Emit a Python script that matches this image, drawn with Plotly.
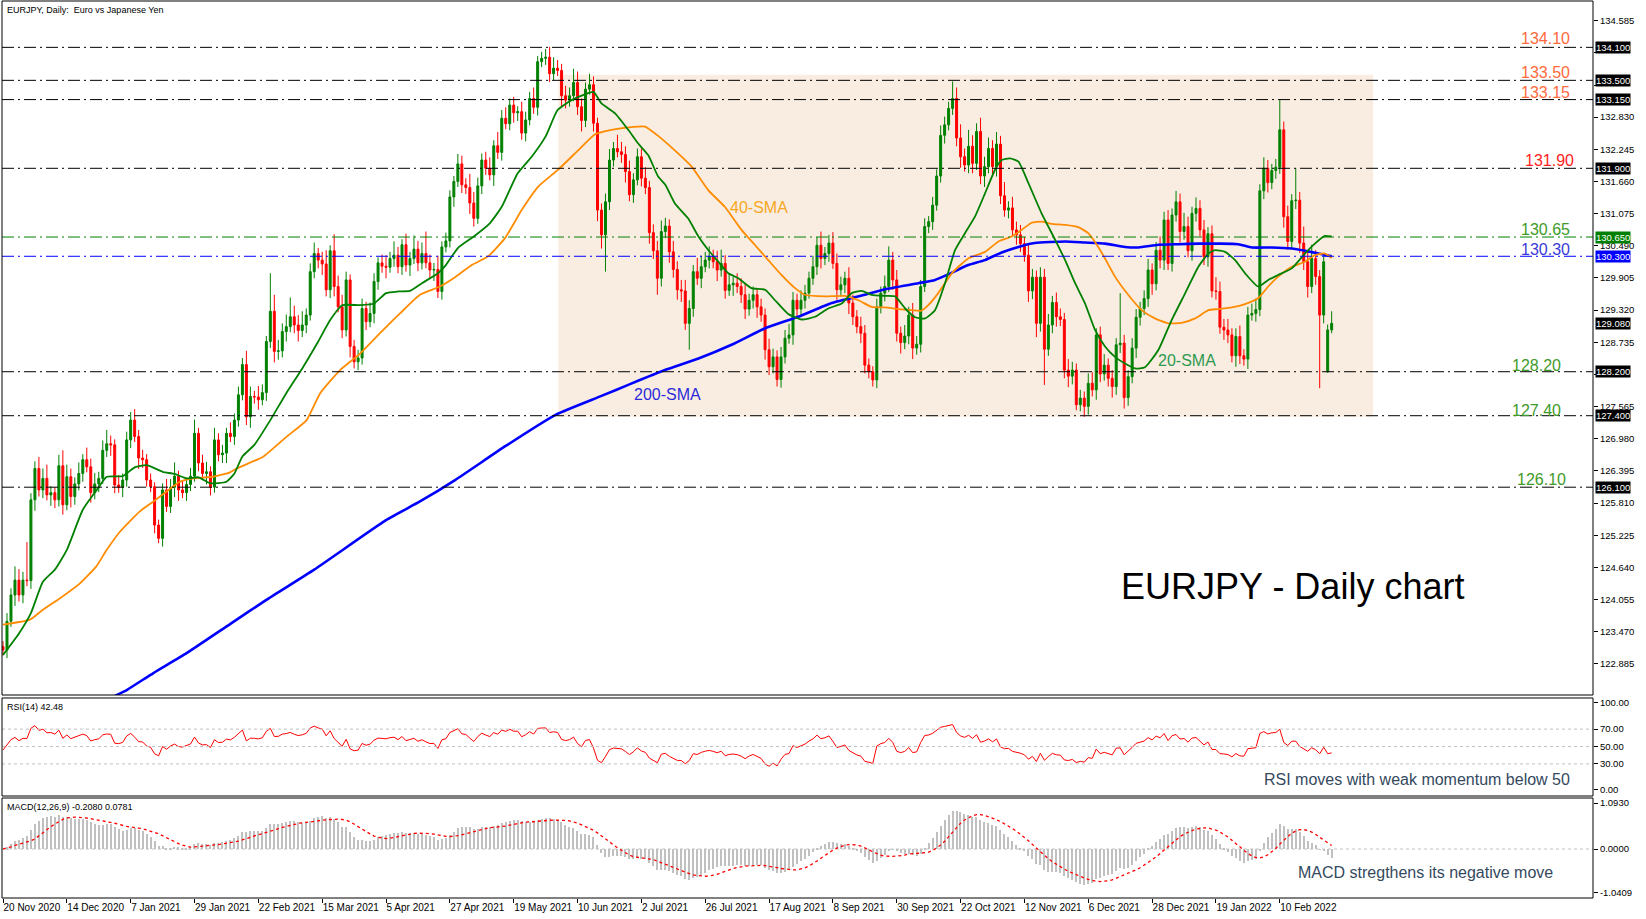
import plotly.graph_objects as go

# ---------------- data ----------------
# daily closes, one per bar (20 Nov 2020 ... 1 Mar 2022)
closes = [
    123.14, 123.66, 124.14, 124.41, 124.14, 124.41, 124.40, 125.87, 126.44, 126.05,
    126.26, 125.96, 126.00, 125.87, 126.49, 125.78, 126.29, 125.93, 126.16, 126.35,
    126.60, 126.47, 126.00, 126.16, 126.26, 126.77, 126.89, 126.87, 126.14, 126.10,
    126.23, 126.96, 127.32, 127.02, 126.63, 126.60, 126.23, 126.11, 125.41, 125.17,
    126.05, 125.75, 126.10, 126.30, 126.05, 126.00, 126.15, 126.30, 127.08, 126.54,
    126.35, 126.38, 126.10, 126.96, 126.69, 126.72, 127.08, 127.02, 127.32, 127.78,
    128.33, 127.38, 127.75, 127.74, 127.69, 127.82, 128.75, 129.30, 128.57, 128.58,
    128.93, 129.02, 129.20, 129.05, 128.95, 129.05, 129.23, 130.02, 130.35, 130.23,
    130.16, 129.69, 130.40, 129.75, 129.38, 128.96, 129.87, 128.66, 128.38, 128.45,
    129.35, 129.11, 129.26, 129.84, 130.18, 130.12, 130.10, 130.26, 130.32, 130.11,
    130.51, 130.14, 130.26, 130.43, 130.18, 130.35, 130.18, 130.05, 130.06, 129.66,
    130.47, 130.58, 131.38, 131.66, 131.98, 131.60, 131.55, 131.27, 130.99, 131.58,
    132.05, 131.90, 131.78, 132.31, 132.19, 132.81, 132.71, 133.05, 132.91, 132.93,
    132.54, 132.78, 133.17, 133.01, 133.84, 133.90, 133.92, 133.62, 133.72, 133.68,
    133.22, 133.14, 133.22, 133.46, 133.02, 132.77, 133.34, 133.42, 132.72, 131.14,
    130.69, 131.29, 132.05, 132.26, 132.20, 132.15, 131.84, 131.42, 131.69, 132.11,
    131.72, 131.55, 130.73, 130.40, 129.90, 130.75, 130.85, 130.38, 130.06, 129.69,
    129.67, 129.08, 129.35, 130.02, 129.90, 130.11, 130.23, 130.30, 130.20, 130.05,
    130.17, 129.68, 129.78, 129.81, 129.75, 129.60, 129.34, 129.50, 129.60, 129.38,
    129.23, 128.60, 128.29, 128.47, 128.06, 128.47, 128.81, 128.87, 129.50, 129.34,
    129.50, 129.63, 129.90, 130.11, 130.50, 130.26, 130.35, 130.54, 130.17, 129.69,
    129.78, 129.90, 129.45, 129.20, 129.02, 128.90, 128.32, 128.20, 128.05, 129.38,
    129.63, 129.75, 130.23, 129.87, 128.90, 128.73, 128.85, 129.23, 128.63, 128.70,
    129.75, 130.84, 130.93, 131.23, 131.76, 132.50, 132.69, 132.99, 133.17, 132.45,
    132.11, 131.96, 132.30, 131.99, 132.57, 131.76, 131.93, 132.26, 131.93, 132.34,
    131.40, 131.14, 131.18, 130.78, 130.69, 130.53, 130.32, 129.67, 129.92, 129.08,
    129.92, 128.61, 129.05, 129.46, 129.20, 129.15, 128.23, 128.12, 128.23, 127.60,
    127.72, 127.57, 127.99, 127.87, 128.87, 128.16, 128.32, 128.08, 127.93, 128.69,
    128.72, 127.73, 128.11, 128.63, 129.19, 129.35, 129.53, 130.05, 129.80, 130.41,
    130.23, 130.96, 130.17, 131.05, 131.29, 130.75, 130.84, 130.40, 131.08, 131.17,
    130.78, 130.29, 130.71, 129.67, 129.66, 129.01, 128.96, 128.87, 128.49, 128.84,
    128.49, 128.43, 129.23, 129.26, 129.33, 131.49, 131.90, 131.64, 131.86, 131.92,
    132.60, 131.02, 130.57, 131.31, 131.32, 130.54, 130.20, 129.75, 130.26, 129.93,
    129.23, 130.20, 128.96, 129.08,
]
first_open = 123.20
gap_open_bar = 332          # Monday gap after the weekend
gap_open_price = 128.20

# wick lengths in pips (0.01 JPY) above / below the candle body
upper_wick_pips = [
    10, 15, 12, 25, 20, 15, 69, 12, 13, 21,
    18, 25, 12, 10, 20, 28, 22, 15, 12, 20,
    10, 22, 15, 20, 12, 18, 25, 15, 10, 18,
    12, 15, 15, 20, 12, 15, 10, 12, 8, 10,
    12, 20, 15, 25, 10, 18, 12, 15, 25, 10,
    15, 18, 10, 22, 12, 15, 10, 20, 12, 15,
    12, 25, 18, 10, 20, 15, 10, 69, 30, 20,
    15, 22, 35, 20, 18, 25, 12, 15, 20, 10,
    15, 25, 10, 30, 20, 22, 15, 10, 12, 15,
    18, 12, 20, 15, 10, 15, 20, 12, 25, 15,
    10, 20, 12, 25, 15, 20, 40, 15, 12, 25,
    10, 15, 12, 10, 18, 15, 12, 25, 20, 15,
    12, 15, 20, 10, 25, 15, 20, 12, 15, 10,
    18, 15, 12, 20, 10, 12, 15, 19, 20, 15,
    12, 18, 15, 25, 20, 15, 12, 20, 15, 10,
    12, 15, 20, 12, 25, 18, 15, 20, 12, 15,
    15, 20, 12, 15, 18, 20, 15, 12, 20, 15,
    18, 20, 15, 12, 25, 20, 15, 18, 12, 20,
    25, 15, 20, 12, 18, 15, 20, 12, 15, 10,
    15, 12, 20, 15, 12, 18, 15, 20, 15, 12,
    18, 15, 12, 20, 15, 25, 12, 15, 20, 18,
    15, 12, 20, 15, 12, 18, 15, 12, 10, 15,
    12, 20, 25, 15, 18, 12, 20, 15, 22, 15,
    12, 15, 10, 15, 12, 18, 15, 12, 31, 20,
    25, 15, 30, 20, 15, 25, 18, 20, 15, 22,
    15, 25, 12, 20, 15, 18, 12, 20, 15, 12,
    18, 15, 20, 12, 18, 15, 12, 20, 15, 12,
    15, 12, 18, 20, 12, 15, 20, 12, 15, 12,
    91, 15, 12, 18, 15, 12, 15, 20, 12, 15,
    25, 15, 18, 12, 20, 15, 25, 18, 12, 20,
    15, 18, 12, 15, 25, 18, 15, 20, 12, 15,
    20, 12, 15, 18, 20, 12, 20, 15, 12, 15,
    55, 15, 20, 12, 58, 15, 30, 18, 25, 15,
    12, 10, 10, 22,
]
lower_wick_pips = [
    10, 15, 10, 20, 12, 15, 10, 15, 20, 12,
    15, 10, 20, 15, 12, 18, 10, 20, 15, 12,
    15, 10, 18, 12, 15, 10, 12, 20, 15, 10,
    18, 12, 15, 10, 20, 15, 12, 10, 15, 9,
    15, 10, 12, 18, 20, 10, 15, 12, 10, 15,
    12, 20, 15, 10, 12, 15, 18, 10, 15, 12,
    10, 15, 20, 12, 18, 10, 15, 12, 20, 15,
    12, 18, 10, 15, 20, 12, 15, 10, 12, 15,
    20, 12, 15, 18, 10, 15, 12, 20, 12, 15,
    12, 15, 10, 18, 15, 12, 20, 10, 15, 12,
    15, 12, 20, 10, 15, 12, 10, 15, 20, 12,
    15, 10, 12, 18, 10, 15, 12, 20, 15, 10,
    15, 12, 10, 20, 12, 15, 10, 12, 18, 15,
    12, 15, 10, 12, 15, 10, 12, 15, 12, 10,
    20, 15, 12, 10, 15, 20, 12, 10, 15, 20,
    25, 67, 15, 12, 10, 15, 20, 12, 15, 10,
    15, 12, 20, 15, 30, 15, 12, 20, 15, 18,
    20, 12, 48, 15, 12, 18, 10, 15, 12, 20,
    12, 15, 10, 20, 12, 15, 18, 12, 15, 20,
    12, 18, 15, 12, 13, 15, 12, 10, 18, 15,
    12, 15, 10, 12, 15, 18, 12, 15, 10, 18,
    12, 15, 20, 15, 12, 18, 15, 12, 12, 15,
    12, 15, 10, 18, 15, 20, 12, 15, 20, 12,
    15, 10, 12, 15, 10, 12, 15, 10, 12, 15,
    20, 12, 15, 18, 12, 15, 20, 12, 15, 18,
    15, 12, 15, 12, 18, 15, 12, 20, 15, 25,
    15, 65, 12, 15, 18, 12, 15, 20, 15, 10,
    12, 19, 15, 12, 18, 15, 12, 15, 20, 15,
    15, 20, 15, 12, 18, 15, 12, 15, 20, 12,
    15, 18, 12, 15, 12, 20, 15, 12, 18, 15,
    12, 15, 18, 12, 15, 12, 18, 15, 12, 20,
    15, 12, 18, 10, 15, 12, 15, 18, 12, 15,
    12, 20, 15, 12, 15, 18, 15, 20, 12, 15,
    133, 15, 2, 6,
]

# moving averages: (bar, value)
sma20_pts = [
    (0, 123.05), (4, 123.44), (7, 123.81), (10, 124.38), (13, 124.6), (16, 124.96),
    (20, 125.69), (23.5, 126.05), (26, 126.29), (30, 126.3), (33, 126.46), (36, 126.5),
    (40, 126.38), (43, 126.34), (46, 126.26), (49, 126.28), (52, 126.17), (56, 126.2),
    (58, 126.35), (60, 126.66), (63, 126.87), (67, 127.32), (71, 127.81), (75, 128.26),
    (79, 128.75), (82, 129.14), (85, 129.41), (89.5, 129.41), (93, 129.44), (96, 129.63),
    (99, 129.66), (102, 129.67), (105, 129.81), (109, 129.99), (111, 130.14), (114, 130.45),
    (118, 130.66), (122, 130.9), (125, 131.2), (129, 131.81), (132.5, 132.11), (136, 132.48),
    (139, 132.96), (142.5, 133.14), (146, 133.25), (148, 133.29), (150, 133.08), (153.4, 132.9),
    (156.7, 132.6), (159.2, 132.35), (161.7, 132.14), (164.2, 131.75), (166, 131.6), (168.4, 131.26),
    (171.7, 130.99), (174.3, 130.66), (176.8, 130.41), (179.3, 130.2), (181.8, 129.99), (184.3, 129.9),
    (187.6, 129.72), (191, 129.69), (193.5, 129.5), (196.8, 129.25), (200.2, 129.15), (203.5, 129.2),
    (206.8, 129.35), (210.2, 129.44), (212.7, 129.63), (215.2, 129.67), (217.7, 129.6), (221, 129.58),
    (223.6, 129.57), (226.1, 129.35), (228.6, 129.19), (231.1, 129.17), (233.6, 129.32), (236.1, 129.81),
    (238.6, 130.41), (241.1, 130.72), (243.6, 131.02), (246.1, 131.44), (248.6, 131.87), (250.3, 132.05),
    (252.4, 132.08), (254.5, 132.02), (257, 131.63), (260.3, 131.08), (263.7, 130.6), (266.2, 130.23),
    (268.7, 129.81), (271.2, 129.44), (273.7, 128.96), (276.2, 128.66), (278.7, 128.47), (281.2, 128.35),
    (283.7, 128.26), (286.2, 128.28), (289.6, 128.6), (292.9, 129.14), (296.3, 129.63), (299.6, 130.11),
    (302.1, 130.35), (303.8, 130.41), (306.3, 130.38), (308.8, 130.23), (311.3, 129.99), (314.6, 129.75),
    (317.1, 129.87), (319.6, 129.96), (323, 130.08), (326.3, 130.35), (328.8, 130.53), (331.3, 130.67),
    (333, 130.66),
]
sma40_pts = [
    (0, 123.6), (6.75, 123.69), (10, 123.87), (14.3, 124.08), (19.3, 124.35), (23.4, 124.66),
    (26, 124.96), (29.3, 125.29), (34.3, 125.66), (37.7, 125.84), (41, 126.02), (44.4, 126.2),
    (47.7, 126.26), (52.7, 126.29), (56.9, 126.37), (58.6, 126.44), (65.3, 126.66), (71.1, 127.02),
    (76.1, 127.32), (79.5, 127.81), (84.5, 128.23), (89.5, 128.53), (94.5, 128.9), (99.5, 129.26),
    (104.5, 129.6), (109.5, 129.75), (113.3, 129.92), (117.5, 130.14), (121.6, 130.3), (125.8, 130.63),
    (130, 131.14), (134.2, 131.57), (139.2, 131.88), (144.2, 132.23), (148.4, 132.52), (152.5, 132.6),
    (157.6, 132.65), (160.9, 132.66), (164.2, 132.49), (169.2, 132.17), (172.6, 131.93), (176.8, 131.5),
    (180.9, 131.2), (185.1, 130.78), (188.5, 130.5), (191.8, 130.23), (195.1, 129.96), (198.5, 129.72),
    (201, 129.6), (206, 129.57), (211, 129.58), (214.4, 129.5), (217.7, 129.38), (221, 129.37),
    (224.4, 129.34), (227.7, 129.32), (230.2, 129.31), (231.9, 129.41), (234.4, 129.63), (237.8, 129.99),
    (241.9, 130.26), (246.1, 130.38), (249.5, 130.57), (252.8, 130.66), (255.3, 130.78), (257.8, 130.91),
    (260.3, 130.93), (262.8, 130.89), (266.2, 130.87), (269.5, 130.83), (272, 130.72), (274.5, 130.47),
    (276.2, 130.26), (278.7, 129.93), (282, 129.6), (285.4, 129.32), (288.7, 129.17), (292.1, 129.08),
    (295.4, 129.09), (298.8, 129.17), (302.1, 129.32), (304.6, 129.34), (308, 129.37), (311.3, 129.43),
    (314.6, 129.54), (317.1, 129.75), (319.6, 129.93), (323, 130.11), (326.3, 130.2), (328.8, 130.32),
    (331.3, 130.35), (333, 130.27),
]
sma200_pts = [
    (20, 121.9), (28, 122.3), (31, 122.41), (37.7, 122.72), (46, 123.08), (56.9, 123.61),
    (66, 124.05), (78, 124.6), (96, 125.5), (104.5, 125.84), (113.3, 126.23), (126, 126.85),
    (138.6, 127.42), (150, 127.76), (157, 127.97), (165.9, 128.23), (174.3, 128.44), (182.6, 128.69),
    (191, 128.99), (199.3, 129.2), (207.7, 129.45), (216, 129.6), (221, 129.7), (229.4, 129.81),
    (233.6, 129.87), (237.8, 130.0), (241.9, 130.14), (246.1, 130.23), (250.3, 130.37), (254.5, 130.47),
    (258.6, 130.54), (266.2, 130.57), (271.2, 130.55), (276.2, 130.53), (281.2, 130.47), (284.6, 130.46),
    (289.6, 130.51), (294.6, 130.52), (299.6, 130.53), (304.6, 130.53), (309.6, 130.52), (313, 130.46),
    (318, 130.46), (323, 130.44), (326.3, 130.4), (329.7, 130.35), (333, 130.30),
]

date_labels = [
    "20 Nov 2020", "14 Dec 2020", "7 Jan 2021", "29 Jan 2021", "22 Feb 2021", "15 Mar 2021",
    "5 Apr 2021", "27 Apr 2021", "19 May 2021", "10 Jun 2021", "2 Jul 2021", "26 Jul 2021",
    "17 Aug 2021", "8 Sep 2021", "30 Sep 2021", "22 Oct 2021", "12 Nov 2021", "6 Dec 2021",
    "28 Dec 2021", "19 Jan 2022", "10 Feb 2022",
]
bars_per_label = 16

price_ticks = [134.585, 134.000, 133.415, 132.830, 132.245, 131.660, 131.075, 130.490,
               129.905, 129.320, 128.735, 128.150, 127.565, 126.980, 126.395, 125.810,
               125.225, 124.640, 124.055, 123.470, 122.885]
# ticks whose labels are hidden behind the level price boxes
hidden_price_ticks = [134.000, 133.415, 128.150]
rsi_ticks = [100, 70, 50, 30, 0]
rsi_levels = [70, 50, 30]
macd_ticks = [1.0930, 0.0, -1.0409]

# horizontal support / resistance levels
level_values = [134.10, 133.50, 133.15, 131.90, 130.65, 130.30, 128.20, 127.40, 126.10]
level_line_colors = ["black", "black", "black", "black", "#008000", "#0000FF", "black", "black", "black"]
level_box_colors = ["black", "black", "black", "black", "#008000", "#0000FF", "black", "black", "black"]
level_text_colors = ["#FF6A3C", "#FF6A3C", "#FF6A3C", "#FF1E1E", "#3F9A2A", "#3A3AD8",
                     "#3F9A2A", "#3F9A2A", "#3F9A2A"]
current_price = 129.08

# consolidation box (bars and prices)
box_start_bar, box_end_bar = 139.2, 343.4
box_low, box_high = 127.38, 133.60

rsi_header = "RSI(14) 42.48"
macd_header = "MACD(12,26,9) -0.2080 0.0781"

# ---------------- derived series ----------------
n = len(closes)
idx = list(range(n))
opens = [first_open] + closes[:-1]
opens[gap_open_bar] = gap_open_price
highs = [max(o, c) + u / 100 for o, c, u in zip(opens, closes, upper_wick_pips)]
lows = [min(o, c) - d / 100 for o, c, d in zip(opens, closes, lower_wick_pips)]


def rsi_series(c, period=14, seed_gain=0.13, seed_loss=0.153):
    ag, al = seed_gain, seed_loss
    out = [100 - 100 / (1 + ag / al)]
    for i in range(1, len(c)):
        ch = c[i] - c[i - 1]
        ag = (ag * (period - 1) + max(ch, 0)) / period
        al = (al * (period - 1) + max(-ch, 0)) / period
        out.append(100 - 100 / (1 + ag / al) if al > 0 else 100.0)
    return out


def ema(c, p):
    a = 2 / (p + 1)
    e = c[0]
    out = []
    for v in c:
        e = e + a * (v - e)
        out.append(e)
    return out


rsi = rsi_series(closes)
macd = [a - b for a, b in zip(ema(closes, 12), ema(closes, 26))]
signal = []
for i in range(n):
    w = macd[max(0, i - 8):i + 1]
    signal.append(sum(w) / len(w))

# ---------------- figure ----------------
FONT = "Liberation Sans, Arial, sans-serif"
MAIN_DOM = [0.2263, 1.0]
RSI_DOM = [0.11371, 0.22297]
MACD_DOM = [0.0, 0.11148]

fig = go.Figure()

fig.add_trace(go.Candlestick(
    x=idx, open=opens, high=highs, low=lows, close=closes,
    increasing=dict(line=dict(color="#008000", width=1), fillcolor="#008000"),
    decreasing=dict(line=dict(color="#FF0000", width=1), fillcolor="#FF0000"),
    whiskerwidth=0, xaxis="x", yaxis="y", hoverinfo="skip",
))

for pts, col, wd in [(sma200_pts, "#0000FF", 2.6), (sma40_pts, "#FF8C00", 1.8), (sma20_pts, "#008000", 1.8)]:
    bx = [p[0] for p in pts]
    by = [p[1] for p in pts]
    fig.add_trace(go.Scatter(x=bx, y=by, mode="lines", xaxis="x", yaxis="y",
                             line=dict(color=col, width=wd, shape="spline", smoothing=0.5),
                             hoverinfo="skip"))

fig.add_trace(go.Scatter(x=idx, y=rsi, mode="lines", xaxis="x", yaxis="y2",
                         line=dict(color="#FF0000", width=1), hoverinfo="skip"))

fig.add_trace(go.Bar(x=idx, y=macd, width=0.3, marker=dict(color="#C0C0C0", line=dict(width=0)),
                     xaxis="x", yaxis="y3", hoverinfo="skip"))
fig.add_trace(go.Scatter(x=idx, y=signal, mode="lines", xaxis="x", yaxis="y3",
                         line=dict(color="#FF0000", width=1.3, dash="dot"), hoverinfo="skip"))

shapes = []
shapes.append(dict(type="rect", xref="x", yref="y", x0=box_start_bar, x1=box_end_bar,
                   y0=box_low, y1=box_high, fillcolor="#F9EDE2", line=dict(width=0), layer="below"))
for lv, lc in zip(level_values, level_line_colors):
    shapes.append(dict(type="line", xref="paper", yref="y", x0=0, x1=1, y0=lv, y1=lv,
                       line=dict(color=lc, width=1, dash="12px,4px,2px,4px"), layer="above"))
for lv in rsi_levels:
    shapes.append(dict(type="line", xref="paper", yref="y2", x0=0, x1=1, y0=lv, y1=lv,
                       line=dict(color="#C0C0C0", width=1, dash="3px,3px")))
shapes.append(dict(type="line", xref="paper", yref="y3", x0=0, x1=1, y0=0, y1=0,
                   line=dict(color="#C0C0C0", width=1, dash="3px,3px"), layer="below"))
for dom in (MAIN_DOM, RSI_DOM, MACD_DOM):
    shapes.append(dict(type="rect", xref="paper", yref="paper", x0=0, x1=1, y0=dom[0], y1=dom[1],
                       line=dict(color="black", width=1), fillcolor="rgba(0,0,0,0)", layer="above"))

ann = []
# level texts
text_right = [0.9868, 0.9868, 0.9868, 0.9893, 0.9868, 0.9868, 0.9811, 0.9811, 0.9843]
text_shift = [8.5, 8, 7, 7.5, 7.7, 7, 6, 5.7, 7.3]
for lv, tc, xr, ys in zip(level_values, level_text_colors, text_right, text_shift):
    ann.append(dict(x=xr, xref="paper", y=lv, yref="y", text=f"{lv:.2f}", showarrow=False,
                    xanchor="right", yanchor="middle", yshift=ys,
                    font=dict(family=FONT, size=16, color=tc)))
# price boxes on the axis
for lv, bc in zip(level_values + [current_price], level_box_colors + ["black"]):
    ann.append(dict(x=1, xref="paper", y=lv, yref="y", text=f"{lv:.3f}", showarrow=False,
                    xanchor="left", yanchor="middle", xshift=2, bgcolor=bc, borderpad=0,
                    font=dict(family=FONT, size=9.5, color="white")))
# moving-average labels
ann.append(dict(x=189.5, xref="x", y=131.18, yref="y", text="40-SMA", showarrow=False,
                font=dict(family=FONT, size=16, color="#F7A823")))
ann.append(dict(x=296.7, xref="x", y=128.41, yref="y", text="20-SMA", showarrow=False,
                font=dict(family=FONT, size=16, color="#2D9A4E")))
ann.append(dict(x=166.6, xref="x", y=127.78, yref="y", text="200-SMA", showarrow=False,
                font=dict(family=FONT, size=16, color="#2B2BD9")))
ann.append(dict(x=323.1, xref="x", y=124.3, yref="y", text="EURJPY - Daily chart", showarrow=False,
                font=dict(family=FONT, size=36, color="black")))
# headers
ann.append(dict(x=0, xref="paper", y=1, yref="paper", text="EURJPY, Daily:  Euro vs Japanese Yen",
                showarrow=False, xanchor="left", yanchor="top", xshift=3, yshift=-2,
                font=dict(family=FONT, size=9, color="black")))
ann.append(dict(x=0, xref="paper", y=RSI_DOM[1], yref="paper", text=rsi_header,
                showarrow=False, xanchor="left", yanchor="top", xshift=3, yshift=-2,
                font=dict(family=FONT, size=9, color="black")))
ann.append(dict(x=0, xref="paper", y=MACD_DOM[1], yref="paper", text=macd_header,
                showarrow=False, xanchor="left", yanchor="top", xshift=3, yshift=-2,
                font=dict(family=FONT, size=9, color="black")))
# comments
ann.append(dict(x=0.9868, xref="paper", y=12.6, yref="y2", text="RSI moves with weak momentum below 50",
                showarrow=False, xanchor="right", yanchor="middle",
                font=dict(family=FONT, size=16, color="#34495E")))
ann.append(dict(x=0.9761, xref="paper", y=-0.554, yref="y3", text="MACD stregthens its negative move",
                showarrow=False, xanchor="right", yanchor="middle",
                font=dict(family=FONT, size=16, color="#34495E")))

tick_font = dict(family=FONT, size=9.5, color="black")
price_text = ["" if v in hidden_price_ticks else f"{v:.3f}" for v in price_ticks]
common_y = dict(anchor="x", side="right", ticks="outside", ticklen=4, tickcolor="black",
                tickfont=tick_font, showgrid=False, zeroline=False, showline=False,
                automargin=False)
fig.update_layout(
    width=1646, height=919,
    margin=dict(l=2, r=53, t=1, b=21, autoexpand=False),
    paper_bgcolor="white", plot_bgcolor="white",
    showlegend=False, shapes=shapes, annotations=ann, bargap=0,
    xaxis=dict(domain=[0, 1], anchor="y3", range=[-0.25, 398.5],
               tickvals=[i * bars_per_label for i in range(len(date_labels))],
               ticktext=date_labels, ticks="outside", ticklen=4, tickcolor="black",
               tickangle=0, automargin=False,
               ticklabelposition="outside right", tickfont=dict(family=FONT, size=10, color="black"),
               showgrid=False, zeroline=False, showline=False, rangeslider=dict(visible=False)),
    yaxis=dict(domain=MAIN_DOM, range=[122.32, 134.943],
               tickvals=price_ticks, ticktext=price_text, **common_y),
    yaxis2=dict(domain=RSI_DOM, range=[-6.9, 105.75],
                tickvals=rsi_ticks, ticktext=[f"{v:.2f}" for v in rsi_ticks], **common_y),
    yaxis3=dict(domain=MACD_DOM, range=[-1.164, 1.212],
                tickvals=macd_ticks, ticktext=[f"{v:.4f}" for v in macd_ticks], **common_y),
)

fig.write_html("out.html", config={"displayModeBar": False},
               post_script="document.body.style.margin='0px';document.body.style.padding='0px';")
